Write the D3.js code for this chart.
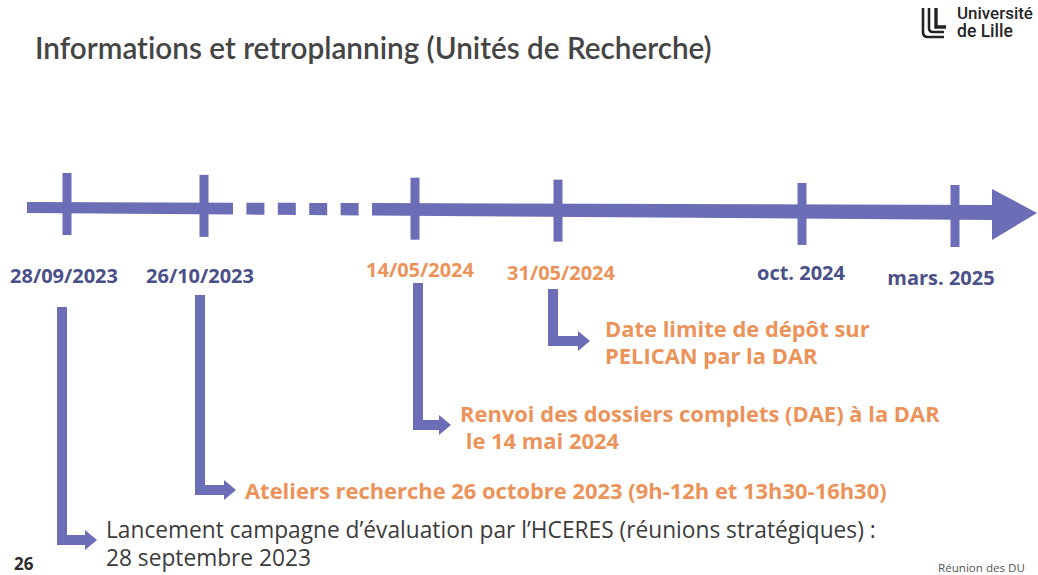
<!DOCTYPE html>
<html><head><meta charset="utf-8">
<script src="https://cdn.jsdelivr.net/npm/d3@7"></script>
<style>body{margin:0;background:#fff} svg{display:block} text{font-variant-ligatures:none}</style>
</head><body><svg id="c" width="1038" height="575"></svg>
<script>
// ---------- data ----------
const milestoneDates  = ["2023-09-28","2023-10-26","2024-05-14","2024-05-31","2024-10-01","2025-03-01"];
const milestoneLabels = ["28/09/2023","26/10/2023","14/05/2024","31/05/2024","oct. 2024","mars. 2025"];
const milestoneHighlight = [false,false,true,true,false,false];
const eventDates = ["2023-09-28","2023-10-26","2024-05-14","2024-05-31"];
const eventLines = [
  ["Lancement campagne d’évaluation par l’HCERES (réunions stratégiques) :","28 septembre 2023"],
  ["Ateliers recherche 26 octobre 2023 (9h-12h et 13h30-16h30)"],
  ["Renvoi des dossiers complets (DAE) à la DAR"," le 14 mai 2024"],
  ["Date limite de dépôt sur","PELICAN par la DAR"]
];
const eventHighlight = [false,true,true,true];
const titleText = "Informations et retroplanning (Unités de Recherche)";
const pageNumber = "26";
const footerText = "Réunion des DU";
const logoLines = ["Université","de Lille"];

// ---------- layout / style ----------
const W = 1038, H = 575;
const C = {bar:"#6b6db6", orange:"#ec935a", label:"#4b5088", title:"#454545", body:"#3c3c3c"};
const parse = d3.timeParse("%Y-%m-%d");
const xPix = [67,204,415,558,802,955];          // broken (piecewise) time axis
const x = d3.scaleTime().domain(milestoneDates.map(parse)).range(xPix);
const axisStart = 27, headBase = 992, headTip = 1037;
const gap = [233, 372], nSquares = 4, sq = 18;
const barTop = px => 202 + (px-axisStart)/(headBase-axisStart)*3;
const barBot = px => 213 + (px-axisStart)/(headBase-axisStart)*7;
const tickTop = px => 173 + (px-67)/888*12, tickLen = 62, tickW = 9;
const labelY = [275,275,269,272,272,277];
const labelCx = [64,200,420,561,801,941];
const evDx = [-5,-4,3,-5], evTop = [307,295,283,289], evY = [540,490,425,341];
const evTextX = [106,245,460,605];
const evTextY = [[529,557],[490],[413,440],[328,355]];
const shaftW = 10, headL = 12, headH = 10;

const svg = d3.select("#c");
svg.append("rect").attr("width",W).attr("height",H).attr("fill","#fff");

function fit(sel, target){
  const w = sel.node().getComputedTextLength();
  const fs = parseFloat(sel.attr("font-size"));
  const nf = fs*target/w; sel.attr("font-size", nf); return nf;
}

// title
const t = svg.append("text").text(titleText).attr("x",35).attr("y",47)
  .attr("dominant-baseline","central").attr("font-family","Lato, 'Open Sans', sans-serif")
  .attr("font-weight",600).attr("font-size",24).attr("fill",C.title);
fit(t, 677);

// logo
const lg = svg.append("g").attr("fill","none").attr("stroke","#222").attr("stroke-width",2.6).attr("stroke-linecap","butt");
lg.append("path").attr("d","M923,8 V32 Q923,37 928,37 H944");
lg.append("path").attr("d","M929,8 V28 Q929,32 933,32 H944");
lg.append("path").attr("d","M936,8 V27 H946").attr("stroke-width",3.4);
logoLines.forEach((s,i)=>{
  const e = svg.append("text").text(s).attr("x",957).attr("y",[13,31][i])
    .attr("dominant-baseline","central").attr("font-family","Roboto, sans-serif")
    .attr("font-weight",500).attr("font-size",15).attr("fill","#262626");
  fit(e, [76,56][i]);
});

// axis bar (solid parts + dashed squares)
const poly = (x0,x1) => [[x0,barTop(x0)],[x1,barTop(x1)],[x1,barBot(x1)],[x0,barBot(x0)]];
const segs = [poly(axisStart,gap[0]), poly(gap[1],headBase)];
const step = (gap[1]-gap[0]-nSquares*sq)/(nSquares+1);
d3.range(nSquares).forEach(i=>{const s=gap[0]+step*(i+1)+sq*i; segs.push(poly(s,s+sq));});
svg.append("g").selectAll("path").data(segs).join("path")
  .attr("d", d=>d3.line()(d)+"Z").attr("fill",C.bar);
// arrow head
svg.append("path").attr("d", d3.line()([[headBase,189],[headTip,213],[headBase,240]])+"Z").attr("fill",C.bar);

// ticks
svg.append("g").selectAll("rect").data(milestoneDates).join("rect")
  .attr("x", d=>x(parse(d))-tickW/2).attr("y", d=>tickTop(x(parse(d))))
  .attr("width",tickW).attr("height",tickLen).attr("fill",C.bar);

// milestone labels
let lfs = 20;
const labs = svg.append("g").selectAll("text").data(milestoneLabels).join("text")
  .text(d=>d).attr("x",(d,i)=>labelCx[i]).attr("y",(d,i)=>labelY[i])
  .attr("text-anchor","middle").attr("dominant-baseline","central")
  .attr("font-family","'Open Sans', sans-serif").attr("font-weight",700)
  .attr("font-size",lfs).attr("fill",(d,i)=>milestoneHighlight[i]?C.orange:C.label);
lfs = fit(d3.select(labs.nodes()[0]),108);
labs.attr("font-size",lfs);

// connectors
eventDates.forEach((d,i)=>{
  const vx = x(parse(d))+evDx[i], y = evY[i], tip = evTextX[i] - (i===3?15:9);
  const base = tip - headL;
  const g = svg.append("g").attr("fill",C.bar);
  g.append("rect").attr("x",vx-shaftW/2).attr("y",evTop[i]).attr("width",shaftW).attr("height",y+shaftW/2-evTop[i]);
  g.append("rect").attr("x",vx).attr("y",y-shaftW/2).attr("width",base-vx).attr("height",shaftW);
  g.append("path").attr("d",d3.line()([[base,y-headH],[tip,y],[base,y+headH]])+"Z");
});

// event texts
let bfs = 19, nfs = 19;
const evText = [];
eventLines.forEach((lines,i)=>{
  lines.forEach((s,j)=>{
    const e = svg.append("text").text(s).attr("x",evTextX[i]).attr("y",evTextY[i][j])
      .attr("dominant-baseline","central").attr("xml:space","preserve").style("white-space","pre")
      .attr("font-family","'Open Sans', sans-serif")
      .attr("font-weight",eventHighlight[i]?700:400)
      .attr("font-size",19).attr("fill",eventHighlight[i]?C.orange:C.body);
    evText.push({e,i,j});
  });
});
nfs = fit(evText[0].e, 770);
bfs = fit(evText[2].e, 642);
evText.forEach(o=>o.e.attr("font-size", eventHighlight[o.i]?bfs:nfs));

// page number & footer
svg.append("text").text(pageNumber).attr("x",14).attr("y",563).attr("dominant-baseline","central")
  .attr("font-family","'Open Sans', sans-serif").attr("font-weight",700).attr("font-size",17).attr("fill","#2a2a2a");
const ft = svg.append("text").text(footerText).attr("x",938).attr("y",567).attr("dominant-baseline","central")
  .attr("font-family","'Open Sans', sans-serif").attr("font-size",9).attr("fill","#555");
fit(ft, 87);
</script></body></html>
